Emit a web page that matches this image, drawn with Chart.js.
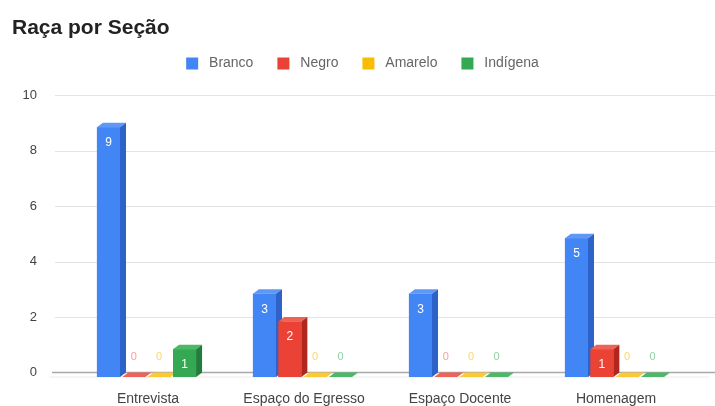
<!DOCTYPE html>
<html>
<head>
<meta charset="utf-8">
<title>Raça por Seção</title>
<script src="https://cdn.jsdelivr.net/npm/chart.js@4.4.0/dist/chart.umd.min.js"></script>
<style>
  html, body { margin: 0; padding: 0; background: #fff; }
  #wrap { width: 715px; height: 406px; }
</style>
</head>
<body>
<div id="wrap"><canvas id="chart"></canvas></div>
<script>
// ---------- Data ----------
const sections = ["Entrevista", "Espaço do Egresso", "Espaço Docente", "Homenagem"];
const branco = [9, 3, 3, 5];
const negro = [0, 2, 0, 1];
const amarelo = [0, 0, 0, 0];
const indigena = [1, 0, 0, 0];
const yTicks = [0, 2, 4, 6, 8, 10];

// ---------- Colours ----------
const series = [
  { label: "Branco", data: branco, front: "#4285f4", top: "#5f97f6", side: "#2d62c9", zero: "rgba(66,133,244,0.55)" },
  { label: "Negro", data: negro, front: "#ea4335", top: "#ee6357", side: "#b0281d", zero: "rgba(234,67,53,0.5)" },
  { label: "Amarelo", data: amarelo, front: "#fbbc04", top: "#fcc934", side: "#c99300", zero: "rgba(251,188,4,0.6)" },
  { label: "Indígena", data: indigena, front: "#34a853", top: "#4cb868", side: "#227d3b", zero: "rgba(52,168,83,0.55)" }
];

const FONT = "Arial, 'Liberation Sans', sans-serif";
const DEPTH_X = 6;
const DEPTH_Y = 4.5;
const SHIFT_X = -1.5;

// ---------- Helpers ----------
function poly(ctx, pts, color) {
  ctx.beginPath();
  ctx.moveTo(pts[0][0], pts[0][1]);
  for (let i = 1; i < pts.length; i++) ctx.lineTo(pts[i][0], pts[i][1]);
  ctx.closePath();
  ctx.fillStyle = color;
  ctx.fill();
}

// legend: extra room under the row, nudge the row to the right
const legendSpace = {
  id: "legendSpace",
  beforeLayout(chart) {
    const legend = chart.legend;
    if (!legend || legend._patched) return;
    const fit = legend.fit;
    legend.fit = function () {
      fit.call(this);
      this.height += 14.5;
      if (this.lineWidths) this.lineWidths[0] -= 19;
    };
    legend._patched = true;
  }
};

// 3D look: grid, floor, faces and value labels
const bars3d = {
  id: "bars3d",
  beforeDatasetsDraw(chart) {
    const { ctx, scales: { y } } = chart;
    ctx.save();
    ctx.lineWidth = 1;
    ctx.strokeStyle = "#e3e3e3";
    yTicks.forEach((v) => {
      if (v === 0) return;
      const py = Math.round(y.getPixelForValue(v)) + 0.5;
      ctx.beginPath();
      ctx.moveTo(55, py);
      ctx.lineTo(715, py);
      ctx.stroke();
    });
    const base = y.getPixelForValue(0);
    ctx.strokeStyle = "#ececec";
    ctx.beginPath();
    ctx.moveTo(49, base + DEPTH_Y);
    ctx.lineTo(709, base + DEPTH_Y);
    ctx.stroke();
    ctx.strokeStyle = "#a8a8a8";
    ctx.lineWidth = 1.5;
    ctx.beginPath();
    ctx.moveTo(52, base);
    ctx.lineTo(715, base);
    ctx.stroke();
    ctx.restore();

    ctx.save();
    ctx.translate(SHIFT_X, DEPTH_Y);
  },
  afterDatasetsDraw(chart) {
    const { ctx } = chart;
    // faces, left to right so the next bar hides the previous side
    for (let i = 0; i < sections.length; i++) {
      series.forEach((s, d) => {
        const bar = chart.getDatasetMeta(d).data[i];
        const { x, y, base, width } = bar.getProps(["x", "y", "base", "width"], true);
        const L = x - width / 2;
        const R = x + width / 2;
        ctx.fillStyle = s.front;
        ctx.fillRect(L, y, width, base - y);
        poly(ctx, [[L, y], [R, y], [R + DEPTH_X, y - DEPTH_Y], [L + DEPTH_X, y - DEPTH_Y]], s.top);
        poly(ctx, [[R, y], [R + DEPTH_X, y - DEPTH_Y], [R + DEPTH_X, base - DEPTH_Y], [R, base]], s.side);
      });
    }
    ctx.restore();

    // value labels
    ctx.save();
    ctx.textAlign = "center";
    ctx.textBaseline = "middle";
    series.forEach((s, d) => {
      chart.getDatasetMeta(d).data.forEach((bar, i) => {
        const { x, y, base } = bar.getProps(["x", "y", "base"], true);
        const v = s.data[i];
        if (v > 0) {
          ctx.font = "12px " + FONT;
          ctx.fillStyle = "#ffffff";
          ctx.fillText(String(v), x + SHIFT_X, y + DEPTH_Y + 15.5);
        } else {
          ctx.font = "11px " + FONT;
          ctx.fillStyle = s.zero;
          ctx.fillText("0", x + SHIFT_X, base - 15.5);
        }
      });
    });
    ctx.restore();
  }
};

// ---------- Chart ----------
const ctx = document.getElementById("chart").getContext("2d");

new Chart(ctx, {
  type: "bar",
  data: {
    labels: sections,
    datasets: series.map((s) => ({
      label: s.label,
      data: s.data,
      backgroundColor: s.front,
      borderWidth: 0,
      categoryPercentage: 0.65,
      barPercentage: 0.91,
      clip: false
    }))
  },
  options: {
    responsive: true,
    maintainAspectRatio: false,
    animation: false,
    layout: { padding: { left: 12, right: 21, top: 0, bottom: 0 } },
    plugins: {
      title: {
        display: true,
        text: "Raça por Seção",
        align: "start",
        color: "#222222",
        font: { family: FONT, size: 21, weight: "bold" },
        padding: { top: 15.5, bottom: -8.2 }
      },
      legend: {
        display: true,
        position: "top",
        align: "center",
        labels: {
          boxWidth: 12,
          boxHeight: 12,
          padding: 24,
          color: "#666666",
          font: { family: FONT, size: 14 },
          generateLabels(chart) {
            return Chart.defaults.plugins.legend.labels.generateLabels(chart).map((item) => {
              item.text = " " + item.text;
              return item;
            });
          }
        }
      },
      tooltip: { enabled: false }
    },
    scales: {
      x: {
        grid: { display: false, drawTicks: false },
        border: { display: false },
        ticks: {
          color: "#444444",
          font: { family: FONT, size: 14 },
          padding: 18.5,
          maxRotation: 0,
          autoSkip: false
        },
        afterFit(scale) { scale.height = 33.5; }
      },
      y: {
        min: 0,
        max: 10,
        grid: { display: false, drawTicks: false },
        border: { display: false },
        afterBuildTicks(scale) { scale.ticks = yTicks.map((v) => ({ value: v })); },
        ticks: {
          color: "#444444",
          font: { family: FONT, size: 13 },
          padding: 33
        },
        afterFit(scale) {
          scale.width = 58;
          scale.paddingTop = 0;
          scale.paddingBottom = 0;
        }
      }
    }
  },
  plugins: [legendSpace, bars3d]
});
</script>
</body>
</html>
